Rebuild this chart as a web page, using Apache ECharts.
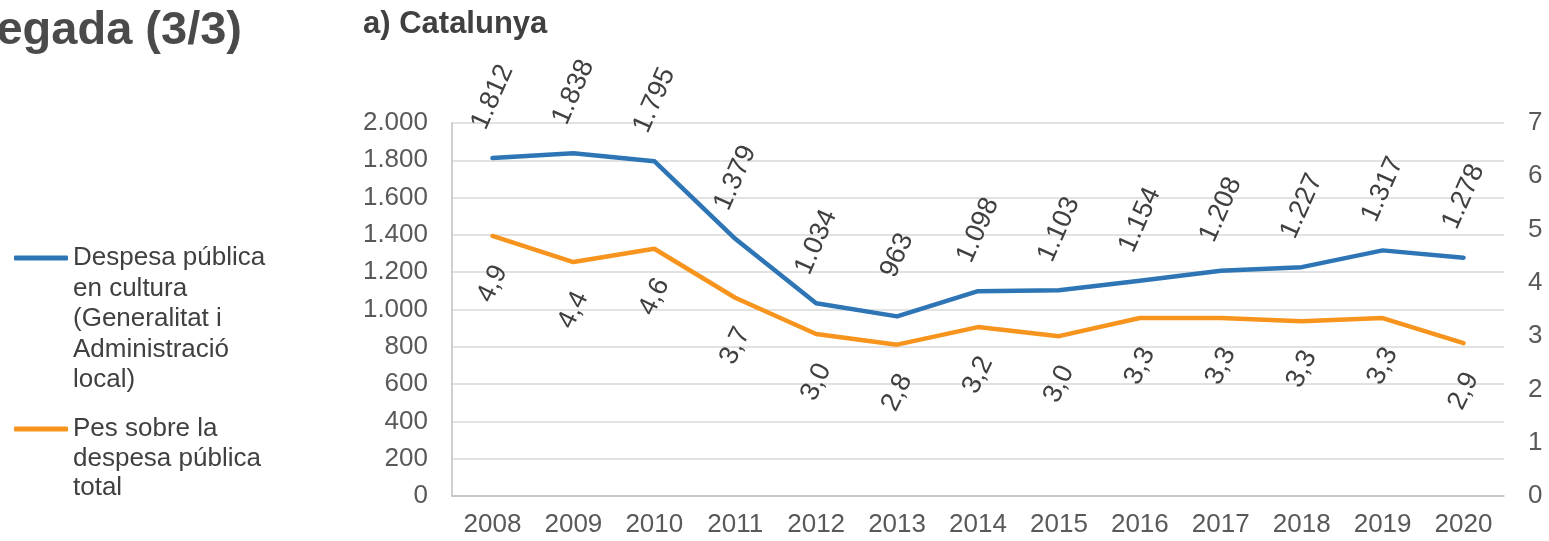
<!DOCTYPE html>
<html>
<head>
<meta charset="utf-8">
<script src="https://cdn.jsdelivr.net/npm/echarts@6/dist/echarts.min.js"></script>
<style>
  html, body { margin: 0; padding: 0; background: #fff; }
  #main { width: 1549px; height: 541px; }
</style>
</head>
<body>
<div id="main"></div>
<script>
  // dades
  const years = ['2008', '2009', '2010', '2011', '2012', '2013', '2014', '2015', '2016', '2017', '2018', '2019', '2020']
  const despesaCultura = [1812, 1838, 1795, 1379, 1034, 963, 1098, 1103, 1154, 1208, 1227, 1317, 1278]
  const pesDespesa = [4.88, 4.39, 4.64, 3.72, 3.04, 2.84, 3.17, 3.0, 3.34, 3.34, 3.28, 3.34, 2.87]
  const leftTicks = [0, 2000, 200]
  const rightTicks = [0, 7, 1]

  const nameBlue = 'Despesa pública\nen cultura\n(Generalitat i\nAdministració\nlocal)'
  const nameOrange = 'Pes sobre la\ndespesa pública\ntotal'

  const fontFam = 'Liberation Sans, Arial, sans-serif'

  // separador de milers amb punt
  function thousands(v) {
    return String(Math.round(v)).replace(/\B(?=(\d{3})+(?!\d))/g, '.')
  }

  const chart = echarts.init(document.getElementById('main'))
  const option = {
    backgroundColor: '#fff',
    animation: false,
    title: {
      text: 'a) Catalunya',
      left: 358,
      top: 4,
      textStyle: { fontFamily: fontFam, fontSize: 31, fontWeight: 'bold', color: '#404040' }
    },
    graphic: [{
      type: 'text',
      right: 1549 - 242,
      top: 8,
      style: {
        text: 'egada (3/3)',
        fontFamily: fontFam,
        fontSize: 47,
        fontWeight: 'bold',
        fill: '#4a4a4a'
      }
    }],
    legend: [{
      data: [nameBlue],
      formatter: n => '\n\n\n\n' + n,
      left: 14,
      top: 258 - 4.5 * 30.5,
      padding: 0,
      icon: 'roundRect',
      itemWidth: 54,
      itemHeight: 5,
      textStyle: { fontFamily: fontFam, fontSize: 26, lineHeight: 30.5, color: '#404040' }
    }, {
      data: [nameOrange],
      formatter: n => '\n\n' + n,
      left: 14,
      top: 429 - 2.5 * 29.5,
      padding: 0,
      icon: 'roundRect',
      itemWidth: 54,
      itemHeight: 5,
      textStyle: { fontFamily: fontFam, fontSize: 26, lineHeight: 29.5, color: '#404040' }
    }],
    grid: { left: 452, right: 45, top: 123, bottom: 45 },
    xAxis: {
      type: 'category',
      data: years,
      boundaryGap: true,
      axisLine: { lineStyle: { color: '#bfbfbf', width: 1.5 } },
      axisTick: { show: false },
      axisLabel: { fontFamily: fontFam, fontSize: 26, color: '#595959', margin: 16 }
    },
    yAxis: [{
      type: 'value',
      min: leftTicks[0],
      max: leftTicks[1],
      interval: leftTicks[2],
      axisLine: { show: true, lineStyle: { color: '#bfbfbf', width: 1.5 } },
      axisTick: { show: false },
      splitLine: { lineStyle: { color: '#d9d9d9', width: 1.5 } },
      axisLabel: { fontFamily: fontFam, fontSize: 26, color: '#595959', margin: 24, formatter: thousands }
    }, {
      type: 'value',
      min: rightTicks[0],
      max: rightTicks[1],
      interval: rightTicks[2],
      axisLine: { show: false },
      axisTick: { show: false },
      splitLine: { show: false },
      axisLabel: { fontFamily: fontFam, fontSize: 26, color: '#595959', margin: 24 }
    }],
    series: [{
      name: nameBlue,
      type: 'line',
      data: despesaCultura,
      yAxisIndex: 0,
      symbol: 'circle',
      symbolSize: 0,
      showSymbol: true,
      lineStyle: { color: '#2e75b6', width: 4.5, cap: 'round', join: 'round' },
      itemStyle: { color: '#2e75b6' },
      label: {
        show: true,
        position: 'top',
        distance: 61,
        rotate: 66,
        align: 'center',
        verticalAlign: 'middle',
        fontFamily: fontFam,
        fontSize: 27,
        color: '#404040',
        formatter: p => thousands(p.value)
      }
    }, {
      name: nameOrange,
      type: 'line',
      data: pesDespesa,
      yAxisIndex: 1,
      symbol: 'circle',
      symbolSize: 0,
      showSymbol: true,
      lineStyle: { color: '#f7941d', width: 4.5, cap: 'round', join: 'round' },
      itemStyle: { color: '#f7941d' },
      label: {
        show: true,
        position: 'bottom',
        distance: 48,
        rotate: 64,
        align: 'center',
        verticalAlign: 'middle',
        fontFamily: fontFam,
        fontSize: 27,
        color: '#404040',
        formatter: p => p.value.toFixed(1).replace('.', ',')
      }
    }]
  }
  chart.setOption(option)
</script>
</body>
</html>
